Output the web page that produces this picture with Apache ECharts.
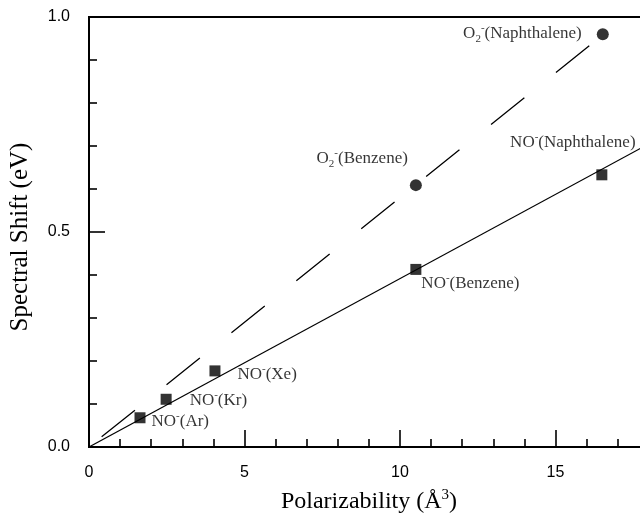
<!DOCTYPE html>
<html>
<head>
<meta charset="utf-8">
<script src="https://cdn.jsdelivr.net/npm/echarts@6/dist/echarts.min.js"></script>
<style>
  html, body { margin: 0; padding: 0; background: #fff; }
  #chart { width: 640px; height: 524px; }
</style>
</head>
<body>
<div id="chart"></div>
<script>
// NO- anion points (square markers)
const noX = [1.64, 2.48, 4.05, 10.51, 16.49];
const noY = [0.068, 0.111, 0.177, 0.413, 0.633];
const noNames = ['Ar', 'Kr', 'Xe', 'Benzene', 'Naphthalene'];

// O2- anion points (round markers)
const o2X = [10.51, 16.52];
const o2Y = [0.609, 0.960];
const o2Names = ['Benzene', 'Naphthalene'];

// fitted lines
const noFitX = [0, 18];
const noFitY = [0, 0.705];
const o2FitX = [0, 16.1];
const o2FitY = [0, 0.934];

// axis tick labels
const xTicks = [0, 5, 10, 15];
const yTicks = [0.0, 0.5, 1.0];

const serif = 'Liberation Serif';
const sans = 'Liberation Sans';

// where each label sits relative to its marker
const noLabelLayout = {
  Ar: { position: 'right', offset: [6, 4] },
  Kr: { position: 'right', offset: [18, 1] },
  Xe: { position: 'right', offset: [17, 4] },
  Benzene: { position: 'right', offset: [0, 14] },
  Naphthalene: { position: 'inside', offset: [-29, -32] },
};
const o2LabelLayout = {
  Benzene: { position: 'left', offset: [-2, -27] },
  Naphthalene: { position: 'left', offset: [-15, -1] },
};

const richText = {
  m: { fontFamily: serif, fontSize: 17, color: '#000', lineHeight: 22 },
  sup: { fontFamily: serif, fontSize: 11, color: '#000', lineHeight: 12, verticalAlign: 'top' },
  sub: { fontFamily: serif, fontSize: 11, color: '#000', lineHeight: 12, verticalAlign: 'bottom' },
};

function pairs(xs, ys) {
  return xs.map((x, i) => [x, ys[i]]);
}

const noData = noX.map((x, i) => {
  const lay = noLabelLayout[noNames[i]];
  return {
    value: [x, noY[i]],
    label: {
      show: true,
      position: lay.position,
      distance: 0,
      offset: lay.offset,
      formatter: `{m|NO}{sup|-}{m|(${noNames[i]})}`,
      rich: richText,
      color: '#000',
    },
  };
});

const o2Data = o2X.map((x, i) => {
  const lay = o2LabelLayout[o2Names[i]];
  return {
    value: [x, o2Y[i]],
    label: {
      show: true,
      position: lay.position,
      distance: 0,
      offset: lay.offset,
      formatter: `{m|O}{sub|2}{sup|-}{m|(${o2Names[i]})}`,
      rich: richText,
      color: '#000',
    },
  };
});

const tickStyle = { color: '#000', width: 1.6 };

const chart = echarts.init(document.getElementById('chart'), null, { renderer: 'canvas' });
chart.setOption({
  animation: false,
  backgroundColor: '#fff',
  grid: {
    left: 89,
    right: -71,
    top: 17,
    bottom: 77,
    show: true,
    borderColor: '#000',
    borderWidth: 2,
    containLabel: false,
    outerBoundsMode: 'none',
  },
  xAxis: {
    type: 'value',
    min: 0,
    max: 20,
    interval: 5,
    name: '{t|Polarizability (Å}{s|3}{t|)}',
    nameLocation: 'middle',
    nameGap: 41,
    nameTextStyle: {
      padding: [0, 62, 0, 0],
      rich: {
        t: { fontFamily: serif, fontSize: 24, color: '#000', lineHeight: 28 },
        s: { fontFamily: serif, fontSize: 15, color: '#000', lineHeight: 17, verticalAlign: 'top' },
      },
    },
    axisLine: { show: true, onZero: false, lineStyle: { color: '#000', width: 2 } },
    axisTick: { show: true, inside: true, length: 17, lineStyle: tickStyle },
    minorTick: { show: true, splitNumber: 5, length: 8, lineStyle: tickStyle },
    splitLine: { show: false },
    axisLabel: {
      fontFamily: sans,
      fontSize: 16,
      color: '#000',
      margin: 18,
      formatter: v => (xTicks.includes(v) ? String(v) : ''),
    },
  },
  yAxis: {
    type: 'value',
    min: 0,
    max: 1,
    interval: 0.5,
    name: 'Spectral Shift (eV)',
    nameLocation: 'middle',
    nameRotate: 90,
    nameGap: 56,
    nameTextStyle: { fontFamily: serif, fontSize: 25, color: '#000', padding: [0, 10, 0, 0] },
    axisLine: { show: true, onZero: false, lineStyle: { color: '#000', width: 2 } },
    axisTick: { show: true, inside: true, length: 16, lineStyle: tickStyle },
    minorTick: { show: true, splitNumber: 5, length: 8, lineStyle: tickStyle },
    splitLine: { show: false },
    axisLabel: {
      fontFamily: sans,
      fontSize: 16,
      color: '#000',
      margin: 19,
      formatter: v => (yTicks.some(t => Math.abs(t - v) < 1e-9) ? v.toFixed(1) : ''),
    },
  },
  series: [
    {
      name: 'NO fit',
      type: 'line',
      data: pairs(noFitX, noFitY),
      symbol: 'none',
      lineStyle: { color: '#000', width: 1.3 },
      z: 2,
    },
    {
      name: 'O2 fit',
      type: 'line',
      data: pairs(o2FitX, o2FitY),
      symbol: 'none',
      lineStyle: { color: '#000', width: 1.3, type: [42.7, 40.5], dashOffset: 67 },
      z: 2,
    },
    {
      name: 'NO-',
      type: 'scatter',
      symbol: 'rect',
      symbolSize: 11,
      itemStyle: { color: '#000' },
      data: noData,
      z: 3,
    },
    {
      name: 'O2-',
      type: 'scatter',
      symbol: 'circle',
      symbolSize: 12,
      itemStyle: { color: '#000' },
      data: o2Data,
      z: 3,
    },
  ],
});
</script>
</body>
</html>
